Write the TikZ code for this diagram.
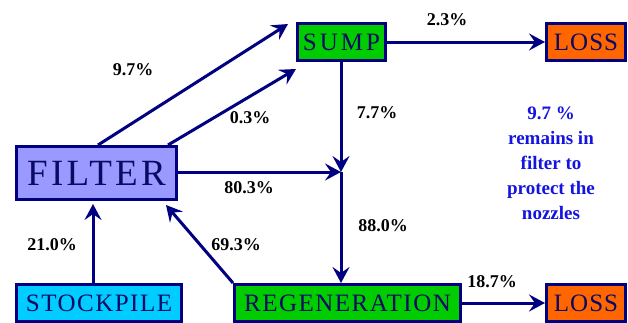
\documentclass[tikz,border=0pt]{standalone}
\usepackage{fontspec}
\setmainfont{Liberation Serif}
\usetikzlibrary{arrows.meta,calc}
\definecolor{navy}{RGB}{0,0,128}
\definecolor{boxtext}{RGB}{10,10,100}
\definecolor{filterfill}{RGB}{153,153,255}
\definecolor{sumpgreen}{RGB}{0,204,0}
\definecolor{lossorange}{RGB}{255,102,0}
\definecolor{stockcyan}{RGB}{0,204,255}
\definecolor{noteblue}{RGB}{20,20,225}
\tikzset{
  box/.style={draw=navy, line width=3pt, inner sep=0pt, text=boxtext,
    font=\fontsize{25}{30}\selectfont\addfontfeatures{LetterSpace=6}},
  flow/.style={draw=navy, line width=3pt,
    -{Stealth[length=16pt,width=17pt,inset=6pt]}},
  pct/.style={font=\bfseries\fontsize{18}{20}\selectfont, text=black},
  note/.style={font=\bfseries\fontsize{19}{25}\selectfont, text=noteblue, align=center}
}
\begin{document}
\begin{tikzpicture}[x=1pt,y=-1pt]
\useasboundingbox (0,0) rectangle (628,322);
\clip (0,0) rectangle (628,322);
\node[box, fill=filterfill, minimum width=160pt, minimum height=53pt,
  font=\fontsize{37}{40}\selectfont\addfontfeatures{LetterSpace=9}] (filter) at (96.5,173) {FILTER};
\node[box, fill=sumpgreen, minimum width=88pt, minimum height=37pt,
  font=\fontsize{25}{30}\selectfont\addfontfeatures{LetterSpace=12}] (sump) at (341.5,42) {SUMP};
\node[box, fill=lossorange, minimum width=79pt, minimum height=37pt,
  font=\fontsize{25}{30}\selectfont\addfontfeatures{LetterSpace=4}] (loss1) at (586,42) {LOSS};
\node[box, fill=stockcyan, minimum width=165pt, minimum height=37pt] (stock) at (99,303) {STOCKPILE};
\node[box, fill=sumpgreen, minimum width=226pt, minimum height=37pt] (regen) at (347.5,303) {REGENERATION};
\node[box, fill=lossorange, minimum width=79pt, minimum height=37pt,
  font=\fontsize{25}{30}\selectfont\addfontfeatures{LetterSpace=4}] (loss2) at (586,303) {LOSS};

\coordinate (J) at (341,172);
\coordinate (s1) at ($(sump.north west)+(-8,2)$);
\coordinate (s2) at ($(sump.south west)+(0,7)$);
\coordinate (f1) at ($(filter.north)+(1.5,0)$);
\coordinate (f2) at ($(filter.north east)+(-10,0)$);
\coordinate (f3) at ($(filter.south)+(-3.5,3)$);
\coordinate (f4) at ($(filter.south east)+(-12,4)$);

\draw[flow] (f1) -- (s1);
\draw[flow] (f2) -- (s2);
\draw[flow] (sump.east) -- (loss1.west);
\draw[flow] (sump.south -| J) -- (J);
\draw[flow] (filter.east |- J) -- (J);
\draw[flow] (J) -- (J |- regen.north);
\draw[flow] (stock.north -| f3) -- (f3);
\draw[flow] (regen.north west) -- (f4);
\draw[flow] (regen.east) -- (loss2.west);

\node[pct] (l97) at (133,70) {9.7\%};
\node[pct] (l03) at (250,118) {0.3\%};
\node[pct] (l23) at (447,20) {2.3\%};
\node[pct] (l77) at (377,113) {7.7\%};
\node[pct] (l803) at (249,188) {80.3\%};
\node[pct] (l210) at (52,245) {21.0\%};
\node[pct] (l693) at (236,245) {69.3\%};
\node[pct] (l880) at (383,226) {88.0\%};
\node[pct] (l187) at (492,282) {18.7\%};
\node[note] (note) at (551,163) {9.7 \%\\remains in\\filter to\\protect the\\nozzles};
\end{tikzpicture}
\end{document}
